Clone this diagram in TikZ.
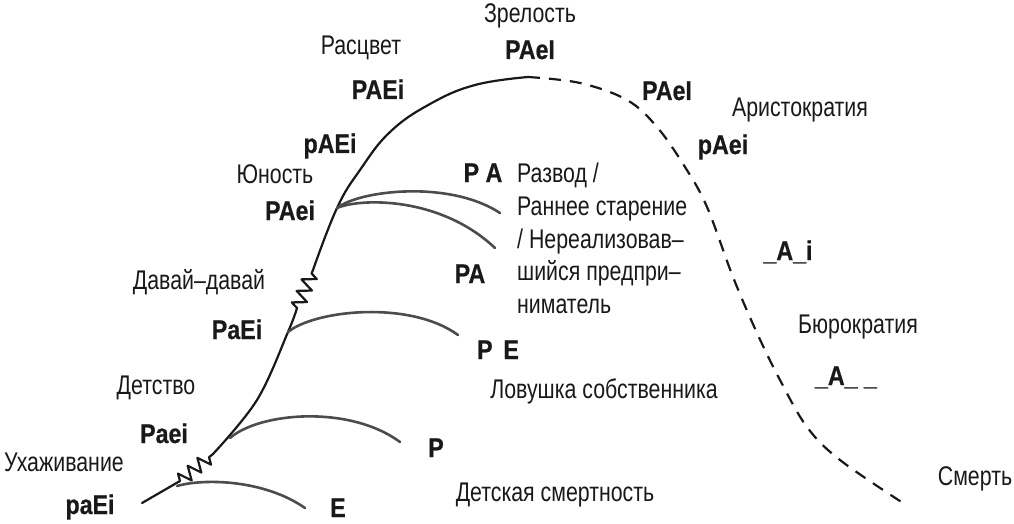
\documentclass[tikz,border=0pt]{standalone}
\usepackage{fontspec}
\setmainfont{Liberation Sans}[FakeStretch=0.79]
\newfontfamily\codefont{Liberation Sans Bold}[FakeStretch=0.86, FakeBold=0.6]
\usetikzlibrary{decorations.pathmorphing}
\tikzset{
  lab/.style={font=\fontsize{27}{32}\selectfont, inner sep=0pt, anchor=base, text=black!90},
  code/.style={lab, font=\fontsize{27}{32}\codefont},
  labl/.style={lab, anchor=base west},
  mainline/.style={line width=2.2pt, black!90, line cap=round, line join=round},
  branch/.style={line width=2.6pt, black!70, line cap=round},
  zig/.style={mainline, decorate, decoration={zigzag, segment length=12.5pt, amplitude=7pt}},
  dline/.style={line width=2.2pt, black!90, dash pattern=on 12pt off 9pt}
}
\begin{document}
\begin{tikzpicture}[x=1pt, y=-1pt]
\useasboundingbox (0,0) rectangle (1014,524);
% main curve coordinates
\coordinate (s0) at (142,503);
\coordinate (z1a) at (180,481);
\coordinate (z1b) at (213,454);
\coordinate (m1) at (257,400);
\coordinate (m2) at (288,332);
\coordinate (z2a) at (297,308);
\coordinate (z2b) at (313,270);
\coordinate (m3) at (337,208);
\coordinate (m4) at (360,170);
\coordinate (m5) at (390,132);
\coordinate (m6) at (430,104);
\coordinate (m7) at (475,85);
\coordinate (top) at (528,77);
\coordinate (d1) at (580,83);
\coordinate (d2) at (627,100);
\coordinate (d3) at (657,127);
\coordinate (d4) at (685,167);
\coordinate (d5) at (707,207);
\coordinate (d6) at (733,277);
\coordinate (d7) at (757,333);
\coordinate (d8) at (780,380);
\coordinate (d9) at (807,427);
\coordinate (d10) at (840,460);
\coordinate (end) at (903,503);
% branch coordinates
\coordinate (bE0) at (177,486);
\coordinate (bE1) at (305,508);
\coordinate (bP0) at (230,438);
\coordinate (bP1) at (400,442);
\coordinate (bPE0) at (288,332);
\coordinate (bPE1) at (458,335);
\coordinate (bPA0) at (337,208);
\coordinate (bPA1) at (500,213);
\coordinate (bPB1) at (495,248);

% main solid curve
\draw[mainline] (s0) -- (z1a);
\draw[zig] (z1a) -- (z1b);
\draw[mainline] plot[smooth, tension=0.6] coordinates {(z1b) (m1) (m2) (z2a)};
\draw[zig] (z2a) -- (z2b);
\draw[mainline] plot[smooth, tension=0.7] coordinates {(z2b) (m3) (m4) (m5) (m6) (m7) (top)};
% dashed decline
\draw[dline] plot[smooth, tension=0.6] coordinates {(top) (d1) (d2) (d3) (d4) (d5) (d6) (d7) (d8) (d9) (d10) (end)};

% branches
\draw[branch] (bE0) .. controls (205,478) and (265,480) .. (bE1);
\draw[branch] (bP0) .. controls (260,412) and (350,405) .. (bP1);
\draw[branch] (bPE0) .. controls (315,310) and (410,300) .. (bPE1);
\draw[branch] (bPA0) .. controls (360,190) and (450,180) .. (bPA1);
\draw[branch] (bPA0) .. controls (360,198) and (440,196) .. (bPB1);

% labels
\node[lab] (zrel) at (530,23) {Зрелость};
\node[code] (czrel) at (530,59) {PAeI};
\node[lab] (rasc) at (361,55) {Расцвет};
\node[code] (crasc) at (378,99) {PAEi};
\node[code] (cpaei) at (330,153) {pAEi};
\node[code] (caris1) at (667,100) {PAeI};
\node[lab] (aris) at (800,117) {Аристократия};
\node[code] (caris2) at (723,154) {pAei};
\node[lab] (yun) at (275,183) {Юность};
\node[code] (cyun) at (290,220) {PAei};
\node[lab] (dav) at (199,289) {Давай–давай};
\node[code] (cdav) at (237,339) {PaEi};
\node[lab] (det) at (156,394) {Детство};
\node[code] (cdet) at (164,443) {Paei};
\node[lab] (uha) at (64,471) {Ухаживание};
\node[code] (cuha) at (90,514) {paEi};
\node[code] (cE) at (338,517) {E};
\node[code] (cP) at (436,457) {P};
\node[lab] (dsm) at (555,501) {Детская смертность};
\node[code] (cPE) at (498,359) {P\hspace{0.4em}E};
\node[lab] (lov) at (604,398) {Ловушка собственника};
\node[code] (cPA2) at (470,283) {PA};
\node[code] (cPA1) at (483,182) {P A};
\node[labl] (r1) at (517,182) {Развод /};
\node[labl] (r2) at (517,215) {Раннее старение};
\node[labl] (r3) at (517,248) {/ Нереализовав–};
\node[labl] (r4) at (517,280) {шийся предпри–};
\node[labl] (r5) at (517,313) {ниматель};
\node[code] (cAi) at (788,260) {\_A\_i};
\node[lab] (bur) at (858,333) {Бюрократия};
\node[code] (cA) at (846,385) {\_A\_ \_};
\node[lab] (smer) at (975,485) {Смерть};
\end{tikzpicture}
\end{document}
